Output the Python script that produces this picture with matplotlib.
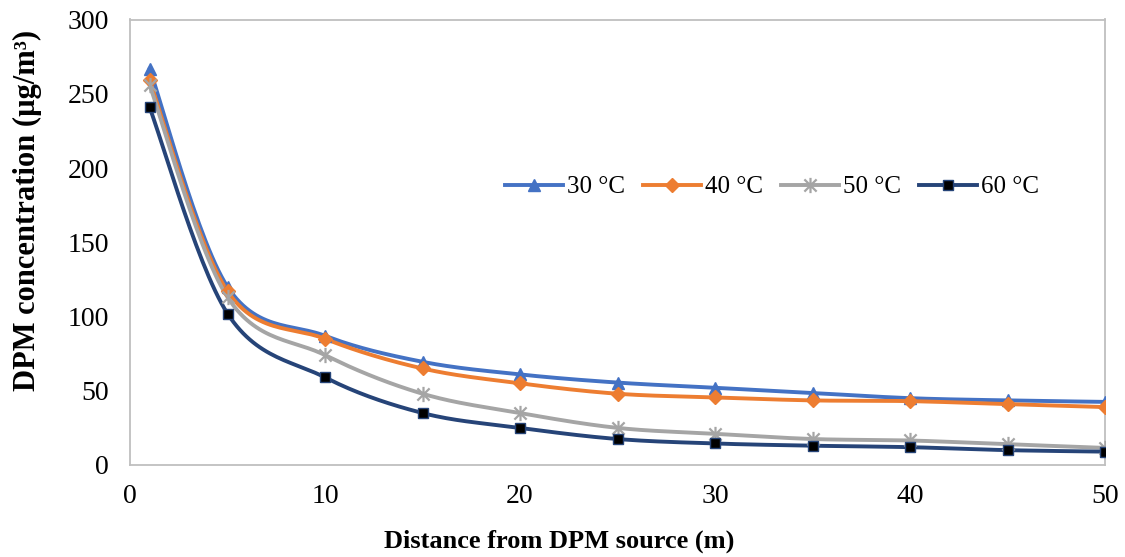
import numpy as np
import matplotlib
matplotlib.use('Agg')
import matplotlib.pyplot as plt
from matplotlib.lines import Line2D
from matplotlib.path import Path

plt.rcParams['font.family'] = ['Liberation Serif', 'DejaVu Serif']

distance = [1, 5, 10, 15, 20, 25, 30, 35, 40, 45, 50]
conc_30 = [267, 120, 87, 69.5, 61, 55.5, 52, 48.5, 45, 43.5, 42.5]
conc_40 = [259, 117, 85, 65, 55, 48, 45.5, 43.5, 43, 41, 39]
conc_50 = [256, 113, 74, 48, 35, 25, 21, 17.5, 16.5, 14, 11.5]
conc_60 = [241, 102, 59, 35, 25, 17.5, 14.5, 13, 12, 10, 9]
labels = ['30 °C', '40 °C', '50 °C', '60 °C']

# excel style asterisk: an x with a vertical stroke
star = Path([(-1, -1), (1, 1), (-1, 1), (1, -1), (0, -1.25), (0, 1.25)],
            [Path.MOVETO, Path.LINETO, Path.MOVETO, Path.LINETO, Path.MOVETO, Path.LINETO])

colors = ['#4472C4', '#ED7D31', '#A5A5A5', '#264478']
markers = ['^', 'D', star, 's']
mfaces = ['#4472C4', '#ED7D31', '#A5A5A5', 'black']
msizes = [9, 7, 11, 6.5]


def smooth(xs, ys, n=30):
    # smoothed line like excel: bezier segments through the points
    p = np.column_stack([xs, ys]).astype(float)
    pts = [p[0]] + list(p) + [p[-1]]
    out = []
    t = np.linspace(0, 1, n)
    for i in range(1, len(pts) - 2):
        p0, p1, p2, p3 = pts[i - 1], pts[i], pts[i + 1], pts[i + 2]
        c1 = p1 + (p2 - p0) / 6
        c2 = p2 - (p3 - p1) / 6
        seg = ((1 - t)[:, None] ** 3 * p1 + 3 * ((1 - t) ** 2 * t)[:, None] * c1
               + 3 * ((1 - t) * t ** 2)[:, None] * c2 + (t ** 3)[:, None] * p2)
        out.append(seg)
    out = np.vstack(out)
    return out[:, 0], out[:, 1]


fig = plt.figure(figsize=(11.25, 5.57), dpi=100)
ax = fig.add_axes([130 / 1125, 92 / 557, 975 / 1125, 445.5 / 557])

series = [conc_30, conc_40, conc_50, conc_60]
handles = []
for ys, c, m, mf, ms, lab in zip(series, colors, markers, mfaces, msizes, labels):
    sx, sy = smooth(distance, ys)
    ax.plot(sx, sy, color=c, lw=2.8, solid_capstyle='round', zorder=2)
    mew = 1.6 if m is star else 1
    ax.plot(distance, ys, ls='none', marker=m, color=c, mfc=mf, mec=c,
            ms=ms, mew=mew, zorder=3)
    handles.append(Line2D([0], [0], color=c, lw=2.8, marker=m, mfc=mf, mec=c,
                          ms=ms, mew=mew, label=lab))

ax.set_xlim(0, 50)
ax.set_ylim(0, 300)
ax.set_xticks(range(0, 51, 10))
ax.set_yticks(range(0, 301, 50))
ax.tick_params(length=0, labelsize=20)
ax.tick_params(axis='x', pad=14)
ax.tick_params(axis='y', pad=15)
for s in ax.spines.values():
    s.set_color('#BFBFBF')
    s.set_linewidth(1.3)

ax.set_xlabel('Distance from DPM source (m)', fontsize=19, fontweight='bold')
ax.set_ylabel('DPM concentration (µg/m³)', fontsize=22, fontweight='bold')
ax.xaxis.set_label_coords(0.44, -0.146)
ax.yaxis.set_label_coords(-0.09, 0.572)

ax.legend(handles=handles, loc='center left', bbox_to_anchor=(0.362, 0.624), ncol=4,
          frameon=False, fontsize=18, handlelength=2.3, columnspacing=0.75,
          handletextpad=0.15)

fig.savefig('out.png', dpi=100)
